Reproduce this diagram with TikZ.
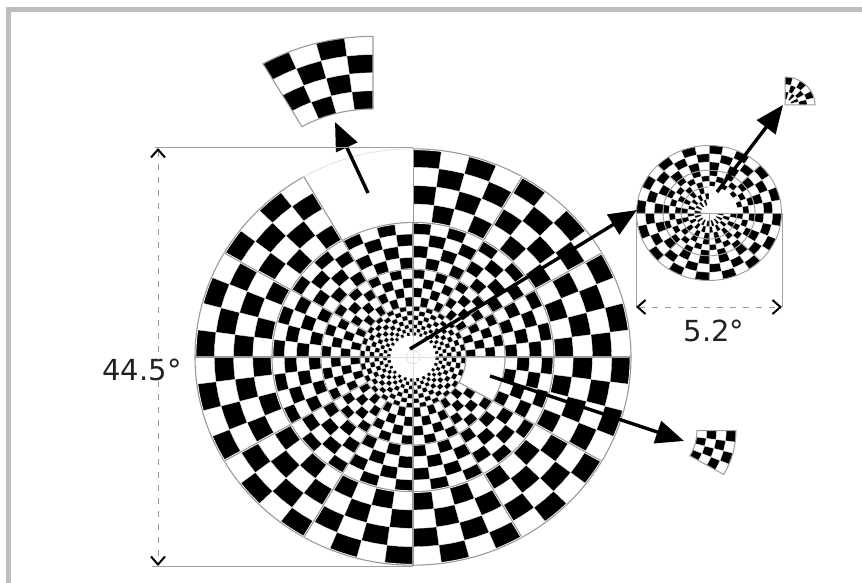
\documentclass[tikz,border=0pt]{standalone}
\usepackage{fontspec}
\setmainfont{DejaVu Sans}
\usetikzlibrary{arrows.meta}
\definecolor{framegray}{HTML}{BDBDBD}
\definecolor{ringgray}{HTML}{9A9A9A}
\definecolor{inkdark}{HTML}{222222}
\def\kk{0.955}
% #1 cx, #2 cy, #3 angular step, #4 first, #5 last cell, #6 outer r, #7 inner r, #8 rows
\newcommand\checks[8]{%
  \begin{scope}[shift={(#1,#2)}]
  \foreach \a in {#4,...,#5}{\foreach \p in {1,...,#8}{%
    \pgfmathtruncatemacro\parity{mod(\a+\p,2)}%
    \ifnum\parity=0
      \pgfmathsetmacro\ro{#6+(#7-#6)*(\p-1)/#8}%
      \pgfmathsetmacro\ri{#6+(#7-#6)*\p/#8}%
      \pgfmathsetmacro\ta{\a*#3}%
      \pgfmathsetmacro\tb{(\a+.5)*#3}%
      \pgfmathsetmacro\tc{(\a+1)*#3}%
      \pgfmathsetmacro\ko{\ro*\kk}%
      \pgfmathsetmacro\ki{\ri*\kk}%
      \fill[black,draw=white,line width=.3pt] (\ta:\ro pt and \ko pt) -- (\tb:\ro pt and \ko pt) -- (\tc:\ro pt and \ko pt)
        -- (\tc:\ri pt and \ki pt) -- (\tb:\ri pt and \ki pt) -- (\ta:\ri pt and \ki pt) -- cycle;
    \fi}}%
  \end{scope}}
% #1 cx #2 cy #3 start #4 end #5 ro #6 ri, #7 options
\newcommand\sect[7]{%
  \begin{scope}[shift={(#1,#2)}]
  \pgfmathsetmacro\ko{#5*\kk}\pgfmathsetmacro\ki{#6*\kk}%
  \path[#7] (#3:#5pt and \ko pt) arc[start angle=#3,end angle=#4,x radius=#5pt,y radius=\ko pt]
     -- (#4:#6pt and \ki pt) arc[start angle=#4,end angle=#3,x radius=#6pt,y radius=\ki pt] -- cycle;
  \end{scope}}
\newcommand\ringset[4]{% cx cy r style
  \pgfmathsetmacro\ko{#3*\kk}%
  \draw[#4] (#1,#2) ellipse[x radius=#3pt,y radius=\ko pt];}
\tikzset{
  ringline/.style={draw=ringgray,line width=1.1pt,preaction={draw=white,line width=2.6pt}},
  midring/.style={draw=ringgray,line width=.9pt,preaction={draw=white,line width=1.6pt}},
  thinring/.style={draw=ringgray,line width=.9pt},
  faintline/.style={draw=gray!25,line width=.7pt},
  bigarrow/.style={-{Triangle[length=28pt,width=23pt]},line width=3.4pt,black},
  dimline/.style={draw=framegray!85!black,line width=1pt},
  dimdash/.style={draw=gray!80,line width=1pt,dash pattern=on 6pt off 7pt},
  dimtext/.style={text=inkdark,font=\fontsize{29}{32}\selectfont,inner sep=0pt}
}
\begin{document}
\begin{tikzpicture}[x=1pt,y=-1pt]
\useasboundingbox (0,0) rectangle (862,583);
\fill[white] (0,0) rectangle (862,583);
% frame
\draw[framegray,line width=5pt] (8.5,583) -- (8.5,9.5) -- (862,9.5);
% --- large map
\def\kk{0.955}
\checks{413}{357}{7.5}{0}{47}{218}{141}{4}
\checks{413}{357}{7.5}{0}{47}{141}{92}{4}
\checks{413}{357}{7.5}{0}{47}{92}{53}{4}
\checks{413}{357}{7.5}{0}{47}{53}{34}{4}
\checks{413}{357}{7.5}{0}{47}{34}{22}{3}
\sect{413}{357}{90}{120}{219}{141}{fill=white}
\sect{413}{357}{-30}{0}{92}{53}{fill=white}
\ringset{413}{357}{218}{ringline}
\ringset{413}{357}{141}{ringline}
\ringset{413}{357}{92}{midring}
\ringset{413}{357}{53}{thinring}
\draw[ringline] (195,357) -- (631,357);
\draw[ringline] (413,148) -- (413,566);
\foreach \t in {30,60,120,150,210,240,300,330}{
  \draw[ringline,shift={(413,357)}] (\t:141pt and 134.6pt) -- (\t:218pt and 208.2pt);
  \draw[midring,shift={(413,357)}] (\t:53pt and 50.6pt) -- (\t:141pt and 134.6pt);}
\fill[white] (413,357) ellipse[x radius=22.5pt,y radius=21.5pt];
\draw[faintline] (391,357) -- (435,357) (413,336) -- (413,378);
\draw[faintline] (413,357) ellipse[x radius=7pt,y radius=6.7pt];
\sect{413}{357}{90}{120}{219}{141}{fill=white}
\draw[faintline,shift={(413,357)}] (90:218pt and 208.2pt) arc[start angle=90,end angle=120,x radius=218pt,y radius=208.2pt];
\draw[thinring] (413,148) -- (413,223);
\draw[thinring,shift={(413,357)}] (120:141pt and 134.6pt) -- (120:218pt and 208.2pt);
\draw[thinring,shift={(413,357)}] (90:141pt and 134.6pt) arc[start angle=90,end angle=120,x radius=141pt,y radius=134.6pt];
\sect{413}{357}{-30}{0}{92}{53}{fill=white,draw=ringgray,line width=1pt}
% --- top patch
\def\kk{0.93}
\checks{373}{241}{7.5}{12}{15}{220}{142}{4}
\sect{373}{241}{90}{120}{220}{142}{draw=ringgray,line width=1.1pt}
\def\kk{0.955}
% --- lower-right patch
\checks{644}{430.5}{7.5}{44}{47}{92}{53}{4}
\sect{644}{430.5}{-30}{0}{92}{53}{draw=ringgray,line width=1pt}
% --- small map
\def\kk{0.931}
\checks{709}{213}{11.25}{0}{31}{72.5}{46}{3}
\checks{709}{213}{11.25}{0}{31}{46}{28}{3}
\checks{709}{213}{11.25}{0}{31}{28}{8}{3}
\ringset{709}{213}{72.5}{thinring}
\ringset{709}{213}{46}{thinring}
\ringset{709}{213}{28}{thinring}
\draw[thinring] (636.5,213) -- (781.5,213);
\draw[thinring] (709,146) -- (709,280);
\foreach \t in {45,135,225,315}{
  \draw[thinring,shift={(709,213)}] (\t:46pt and 42.8pt) -- (\t:72.5pt and 67.5pt);}
\sect{709}{213}{0}{90}{29}{0.01}{fill=white}
% --- top-right tiny patch
\checks{785}{105}{15}{0}{5}{30}{6}{3}
\sect{785}{105}{0}{90}{30}{0.01}{draw=ringgray,line width=1pt}
% --- arrows
\coordinate (a1s) at (410,349); \coordinate (a1e) at (637,210);
\coordinate (a2s) at (368,193); \coordinate (a2e) at (335,122);
\coordinate (a3s) at (490,376); \coordinate (a3e) at (684,441);
\coordinate (a4s) at (717,192); \coordinate (a4e) at (783,105);
\draw[bigarrow] (a1s) -- (a1e);
\draw[bigarrow] (a2s) -- (a2e);
\draw[bigarrow] (a3s) -- (a3e);
\draw[bigarrow] (a4s) -- (a4e);
% --- dimensions
\coordinate (t1) at (155,147.5); \coordinate (t2) at (413,147.5);
\coordinate (b1) at (152,566); \coordinate (b2) at (413,566);
\draw[dimline] (t1) -- (t2);
\draw[dimline] (b1) -- (b2);
\node[dimtext] (deg) at (142,370) {44.5°};
\coordinate (dt) at (158,148); \coordinate (db) at (158,566);
\draw[dimdash,{Straight Barb[length=8pt,width=14pt,line width=2pt,black]}-] (dt) -- (deg.north -| dt);
\draw[dimdash,-{Straight Barb[length=8pt,width=14pt,line width=2pt,black]}] (deg.south -| db) -- (db);
\coordinate (l1) at (636,213); \coordinate (l2) at (636,307);
\coordinate (r1) at (782,213); \coordinate (r2) at (782,307);
\draw[dimline] (l1) -- (l2);
\draw[dimline] (r1) -- (r2);
\draw[dimdash,{Straight Barb[length=8pt,width=14pt,line width=2pt,black]}-{Straight Barb[length=8pt,width=14pt,line width=2pt,black]}] (l2) -- (r2);
\node[dimtext] (deg2) at (714,331) {5.2°};
\end{tikzpicture}
\end{document}
